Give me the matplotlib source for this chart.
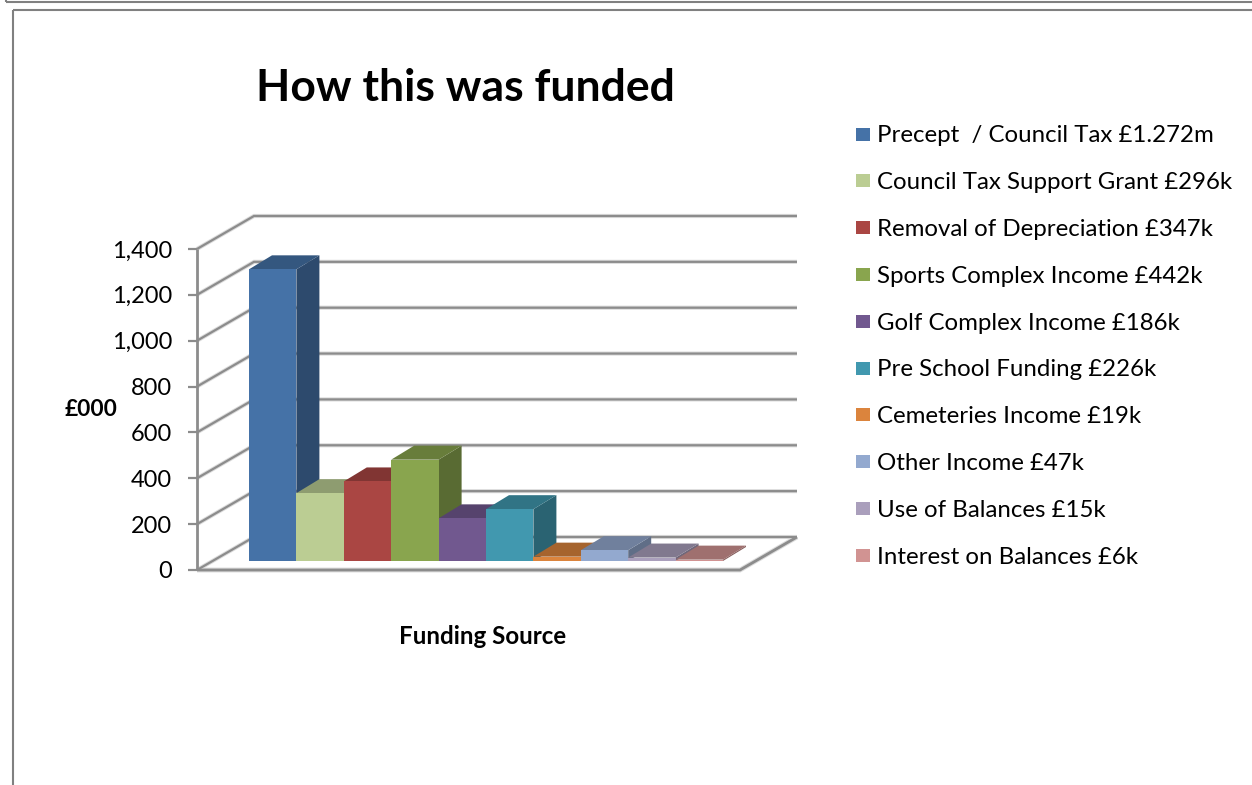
# 3D style column chart of funding sources, drawn with flat polygons

import matplotlib
matplotlib.use('Agg')
import matplotlib.pyplot as plt
from matplotlib.colors import to_rgb
from matplotlib.patches import Polygon, Rectangle

sources = ['Precept  / Council Tax £1.272m', 'Council Tax Support Grant £296k',
           'Removal of Depreciation £347k', 'Sports Complex Income £442k',
           'Golf Complex Income £186k', 'Pre School Funding £226k',
           'Cemeteries Income £19k', 'Other Income £47k',
           'Use of Balances £15k', 'Interest on Balances £6k']
values = [1272, 296, 347, 442, 186, 226, 19, 47, 15, 6]
colors = ['#4572A7', '#BBCD93', '#AA4643', '#89A54E', '#71588F',
          '#4198AF', '#DB843D', '#93A9CF', '#AA9FBC', '#D19392']
y_ticks = [0, 200, 400, 600, 800, 1000, 1200, 1400]

W, H = 1252, 785
BAR_W = 47.4        # pixels per category
UNIT = 0.2293       # pixels per £000
X0, Y0 = 249, 561   # foot of the first column

plt.rcParams['font.family'] = ['Lato', 'DejaVu Sans']

fig = plt.figure(figsize=(W / 100, H / 100), dpi=100)
ax = fig.add_axes([0, 0, 1, 1])
ax.set_xlim(-X0 / BAR_W, (W - X0) / BAR_W)
ax.set_ylim((Y0 - H) / UNIT, Y0 / UNIT)
ax.set_axis_off()


# pixel offsets from the foot of the first column, in data units
def dx(p):
    return p / BAR_W


def dy(p):
    return p / UNIT


def line(xs, ys, z=1, color='#8c8c8c', lw=1.6):
    ax.plot(xs, ys, color=color, lw=lw, zorder=z, solid_capstyle='butt',
            solid_joinstyle='miter')


def shade(color, k):
    return tuple(c * k for c in to_rgb(color))


# page frames
for frame_x, frame_y in [(6, 2), (13, 10)]:
    px = -X0 / BAR_W + dx(frame_x)
    py = (Y0 - frame_y) / UNIT
    right = (W - X0) / BAR_W
    bottom = (Y0 - H) / UNIT
    line([px, px], [bottom if frame_x == 13 else py + dy(3), py], color='#808080', lw=1.5)
    line([px, right], [py, py], color='#808080', lw=1.5)

# walls and floor: corners of the plot box relative to the first column
left_front = dx(197 - X0)
left_back = dx(254 - X0)
right_front = dx(740 - X0)
right_back = dx(797 - X0)
front_base = dy(Y0 - 570)
back_base = dy(Y0 - 537)

for v in y_ticks:
    xs = [left_front, left_back, right_back]
    ys = [front_base + v, back_base + v, back_base + v]
    line(xs, ys, z=1, color='#dcdcdc', lw=3)
    line(xs, ys, z=2)
    line([left_front - dx(9), left_front], [front_base + v, front_base + v], z=2)
    ax.text(left_front - dx(25), front_base + v - dy(2), f'{v:,}', ha='right', va='center',
            fontsize=17, color='black')

line([left_front, left_front], [front_base, front_base + y_ticks[-1]], z=2, lw=2)
floor_x = [left_front, right_front, right_back]
floor_y = [front_base, front_base, back_base]
line(floor_x, floor_y, z=1, color='#dcdcdc', lw=3.5)
line(floor_x, floor_y, z=2, lw=2)

# columns, left to right so each front face covers the side of its neighbour
depth_x = dx(23)
depth_y = dy(14)
for i, (v, c) in enumerate(zip(values, colors)):
    z = 3 + i
    ax.add_patch(Polygon([(i + 1, 0), (i + 1 + depth_x, depth_y),
                          (i + 1 + depth_x, v + depth_y), (i + 1, v)],
                         facecolor=shade(c, 0.65), edgecolor='none', zorder=z))
    ax.add_patch(Polygon([(i, v), (i + depth_x, v + depth_y),
                          (i + 1 + depth_x, v + depth_y), (i + 1, v)],
                         facecolor=shade(c, 0.76), edgecolor='none', zorder=z))
    ax.bar(i, v, width=1, align='edge', color=c, edgecolor='none', zorder=z + 0.5)

# legend
for i, (name, c) in enumerate(zip(sources, colors)):
    ly = dy(Y0 - (134 + 46.8 * i))
    ax.add_patch(Rectangle((dx(856 - X0), ly - dy(6.5)), dx(14), dy(13), facecolor=c,
                           edgecolor='none', zorder=20))
    ax.text(dx(877 - X0), ly - dy(2), name, ha='left', va='center', fontsize=17.3, color='black')

# titles
ax.text(dx(465.5 - X0), dy(Y0 - 88), 'How this was funded', ha='center', va='center',
        fontsize=32, fontweight='bold', color='black')
ax.text(dx(91 - X0), dy(Y0 - 410), '£000', ha='center', va='center',
        fontsize=16.4, fontweight='bold', color='black')
ax.text(dx(483 - X0), dy(Y0 - 637), 'Funding Source', ha='center', va='center',
        fontsize=17.4, fontweight='bold', color='black')

fig.savefig('out.png', dpi=100, facecolor='white')
